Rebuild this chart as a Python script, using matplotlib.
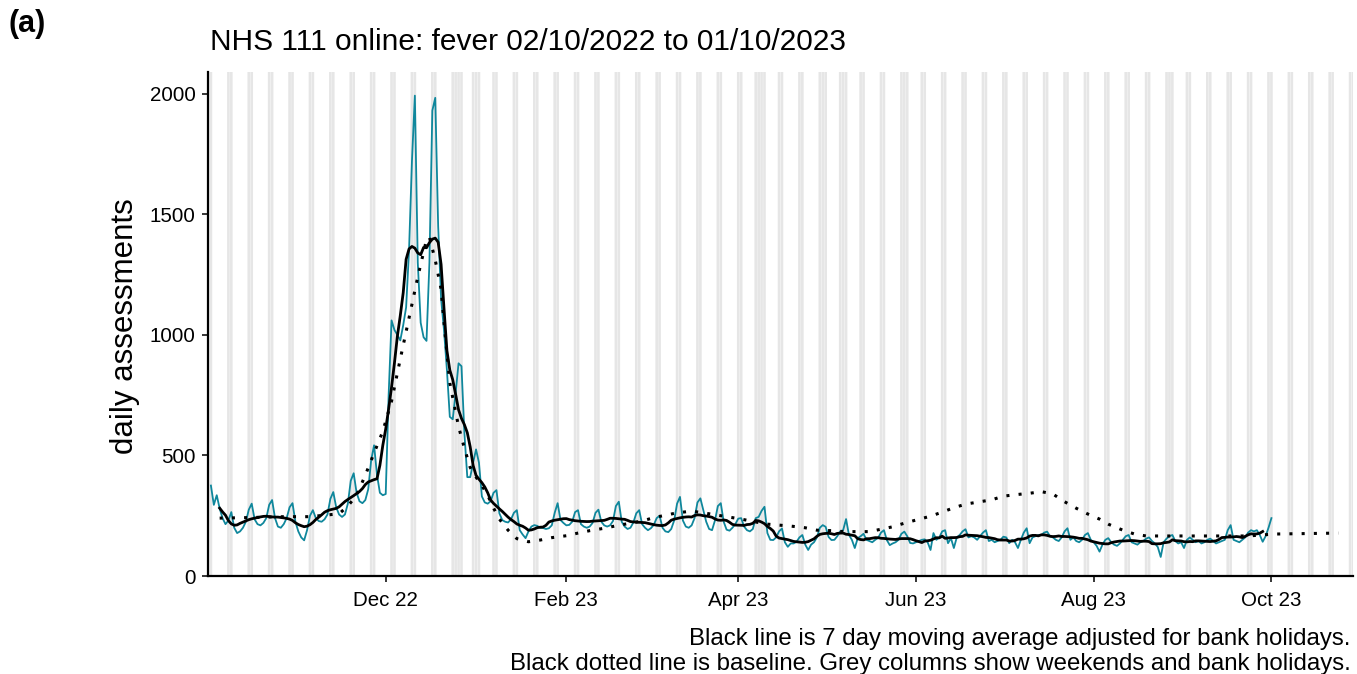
import numpy as np
import pandas as pd
import matplotlib
matplotlib.use("Agg")
import matplotlib.pyplot as plt
import matplotlib.dates as mdates

plt.rcParams['font.family'] = ['Liberation Sans', 'DejaVu Sans']

# ---- data ----
start_date = "2022-10-02"
daily_assessments = [
    375,                                    # Sun 02 Oct
    295, 335, 280, 240, 215, 230, 265,      # w/c 03 Oct
    200, 178, 185, 200, 225, 275, 300,      # w/c 10 Oct
    235, 215, 210, 220, 240, 295, 315,      # w/c 17 Oct
    240, 205, 200, 215, 240, 285, 302,      # w/c 24 Oct
    225, 185, 160, 148, 190, 250, 273,      # w/c 31 Oct
    240, 228, 225, 235, 255, 320, 348,      # w/c 07 Nov
    285, 255, 245, 255, 300, 395, 426,      # w/c 14 Nov
    345, 310, 302, 315, 360, 480, 542,      # w/c 21 Nov
    420, 345, 335, 340, 750, 1060, 1020,    # w/c 28 Nov
    1000, 977, 1040, 1114, 1350, 1720, 1992,  # w/c 05 Dec
    1300, 1050, 990, 975, 1300, 1930, 1983,   # w/c 12 Dec
    1450, 1150, 1020, 855, 660, 650, 760,     # w/c 19 Dec
    882, 870, 592, 410, 410, 470, 525,      # w/c 26 Dec
    470, 330, 305, 300, 310, 345, 356,      # w/c 02 Jan
    260, 232, 225, 222, 235, 262, 273,      # w/c 09 Jan
    190, 172, 157, 185, 205, 211, 208,      # w/c 16 Jan
    200, 199, 195, 198, 210, 262, 302,      # w/c 23 Jan
    232, 220, 210, 212, 225, 265, 273,      # w/c 30 Jan
    215, 205, 200, 205, 220, 262, 275,      # w/c 06 Feb
    225, 210, 205, 210, 228, 290, 308,      # w/c 13 Feb
    225, 205, 195, 200, 222, 260, 273,      # w/c 20 Feb
    215, 200, 190, 198, 212, 240, 250,      # w/c 27 Feb
    200, 185, 182, 195, 230, 300, 328,      # w/c 06 Mar
    230, 205, 200, 210, 240, 305, 322,      # w/c 13 Mar
    273, 225, 195, 190, 230, 290, 302,      # w/c 20 Mar
    225, 192, 188, 200, 215, 238, 240,      # w/c 27 Mar
    205, 190, 185, 195, 240, 245, 270,      # w/c 03 Apr
    287, 178, 150, 149, 160, 185, 197,      # w/c 10 Apr
    140, 121, 135, 135, 142, 160, 170,      # w/c 17 Apr
    130, 108, 130, 140, 160, 200, 211,      # w/c 24 Apr
    204, 162, 149, 150, 165, 185, 190,      # w/c 01 May
    236, 170, 150, 116, 157, 165, 175,      # w/c 08 May
    150, 145, 140, 150, 158, 180, 190,      # w/c 15 May
    149, 128, 135, 140, 150, 175, 184,      # w/c 22 May
    165, 137, 135, 140, 145, 150, 152,      # w/c 29 May
    140, 108, 178, 150, 160, 185, 190,      # w/c 05 Jun
    136, 157, 116, 160, 170, 185, 194,      # w/c 12 Jun
    160, 165, 160, 150, 165, 180, 190,      # w/c 19 Jun
    145, 150, 140, 145, 150, 163, 160,      # w/c 26 Jun
    136, 150, 140, 116, 150, 180, 198,      # w/c 03 Jul
    136, 160, 165, 170, 170, 180, 184,      # w/c 10 Jul
    165, 160, 150, 145, 160, 185, 198,      # w/c 17 Jul
    150, 160, 145, 140, 150, 170, 178,      # w/c 24 Jul
    150, 140, 125, 101, 130, 150, 157,      # w/c 31 Jul
    140, 130, 125, 135, 150, 165, 170,      # w/c 07 Aug
    140, 135, 130, 140, 145, 155, 160,      # w/c 14 Aug
    145, 135, 120, 79, 140, 155, 165,       # w/c 21 Aug
    170, 145, 135, 140, 116, 150, 160,      # w/c 28 Aug
    150, 140, 145, 135, 140, 150, 155,      # w/c 04 Sep
    145, 135, 140, 145, 150, 190, 211,      # w/c 11 Sep
    150, 145, 140, 150, 160, 180, 190,      # w/c 18 Sep
    185, 190, 170, 142, 165, 200, 240,      # w/c 25 Sep
]

baseline_dates = [
    "2022-10-05", "2022-10-14", "2022-10-27", "2022-11-05", "2022-11-15",
    "2022-11-18", "2022-11-21", "2022-11-24", "2022-11-27", "2022-11-30",
    "2022-12-03", "2022-12-06", "2022-12-09", "2022-12-12", "2022-12-15",
    "2022-12-16", "2022-12-18", "2022-12-20", "2022-12-21", "2022-12-23",
    "2022-12-26", "2022-12-28", "2022-12-30", "2023-01-01", "2023-01-03",
    "2023-01-05", "2023-01-07", "2023-01-09", "2023-01-12", "2023-01-15",
    "2023-01-19", "2023-01-23", "2023-01-27", "2023-02-01", "2023-02-05",
    "2023-02-09", "2023-02-14", "2023-02-18", "2023-02-27", "2023-03-03",
    "2023-03-07", "2023-03-11", "2023-03-16", "2023-03-20", "2023-03-25",
    "2023-03-29", "2023-04-02", "2023-04-07", "2023-04-11", "2023-04-15",
    "2023-04-19", "2023-04-24", "2023-04-28", "2023-05-03", "2023-05-07",
    "2023-05-11", "2023-05-16", "2023-05-20", "2023-05-24", "2023-05-28",
    "2023-06-01", "2023-06-06", "2023-06-10", "2023-06-14", "2023-06-18",
    "2023-06-22", "2023-06-27", "2023-07-01", "2023-07-05", "2023-07-10",
    "2023-07-14", "2023-07-18", "2023-07-22", "2023-07-26", "2023-07-30",
    "2023-08-03", "2023-08-06", "2023-08-11", "2023-08-15", "2023-08-19",
    "2023-09-23", "2023-10-02", "2023-10-24",
]
baseline_values = [
    240, 242, 246, 246, 258,
    290, 335, 418, 510, 600,
    725, 900, 1070, 1240, 1395,
    1405, 1310, 1190, 1050, 800,
    620, 530, 450, 410, 375,
    335, 282, 236, 190, 155,
    142, 149, 159, 167, 178,
    188, 198, 208, 228, 242,
    252, 262, 269, 262, 252,
    244, 236, 224, 215, 211,
    207, 200, 190, 188, 184,
    184, 184, 194, 204, 219,
    232, 248, 265, 283, 298,
    306, 316, 331, 337, 343,
    350, 340, 308, 281, 257,
    236, 215, 190, 174, 166,
    166, 174, 178,
]

bank_holidays = ["2022-12-26", "2022-12-27", "2023-01-02", "2023-04-07",
                 "2023-04-10", "2023-05-01", "2023-05-08", "2023-05-29",
                 "2023-08-28"]

x_start, x_end = "2022-10-01", "2023-10-29"
tick_dates = ["2022-12-01", "2023-02-01", "2023-04-01", "2023-06-01",
              "2023-08-01", "2023-10-01"]
y_ticks = [0, 500, 1000, 1500, 2000]

title = "NHS 111 online: fever 02/10/2022 to 01/10/2023"
caption_1 = "Black line is 7 day moving average adjusted for bank holidays."
caption_2 = "Black dotted line is baseline. Grey columns show weekends and bank holidays."

# ---- build series ----
dates = pd.date_range(start_date, periods=len(daily_assessments), freq="D")
daily = pd.Series(daily_assessments, index=dates, dtype=float)
moving_avg = daily.rolling(7, center=True).mean()
baseline = pd.Series(baseline_values, index=pd.to_datetime(baseline_dates))

all_days = pd.date_range(x_start, x_end, freq="D")
grey_days = all_days[(all_days.dayofweek >= 5) | all_days.isin(pd.to_datetime(bank_holidays))]

# ---- figure ----
W, H = 1357, 674
fig = plt.figure(figsize=(W / 100, H / 100), dpi=100)
ax = fig.add_axes([208 / W, 1 - 576 / H, (1353 - 208) / W, (576 - 72) / H])

for d in mdates.date2num(grey_days):
    ax.axvspan(d - 0.45, d + 0.45, facecolor="#e6e6e6", edgecolor="none",
               lw=0, snap=False, zorder=0)

ax.plot(daily.index, daily.values, color="#0f879c", lw=1.3, zorder=2)
ax.plot(moving_avg.index, moving_avg.values, color="black", lw=2.0, zorder=3)
ax.plot(baseline.index, baseline.values, color="black", lw=2.2,
        linestyle=(0, (1, 3)), dash_capstyle="butt", zorder=4)

ax.set_xlim(pd.Timestamp(x_start), pd.Timestamp(x_end))
ax.set_ylim(0, 2090)
ax.set_xticks(pd.to_datetime(tick_dates))
ax.xaxis.set_major_formatter(mdates.DateFormatter("%b %y"))
ax.set_yticks(y_ticks)

for s in ["top", "right"]:
    ax.spines[s].set_visible(False)
for s in ["left", "bottom"]:
    ax.spines[s].set_linewidth(1.6)
ax.tick_params(axis="both", length=4, width=1.1, labelsize=14.8, color="black")
ax.tick_params(axis="x", pad=7)
ax.tick_params(axis="y", pad=5)

fig.text(125 / W, 1 - 326 / H, "daily assessments", fontsize=22.5,
         rotation=90, ha="center", va="center")
fig.text(210 / W, 1 - 50 / H, title, fontsize=21.5, ha="left", va="baseline")
fig.text(8 / W, 1 - 32 / H, "(a)", fontsize=22, fontweight="bold",
         ha="left", va="baseline")
fig.text(1350 / W, 1 - 645 / H, caption_1, fontsize=17.3, ha="right", va="baseline")
fig.text(1351 / W, 1 - 670 / H, caption_2, fontsize=17.3, ha="right", va="baseline")

fig.savefig("out.png", dpi=100)
